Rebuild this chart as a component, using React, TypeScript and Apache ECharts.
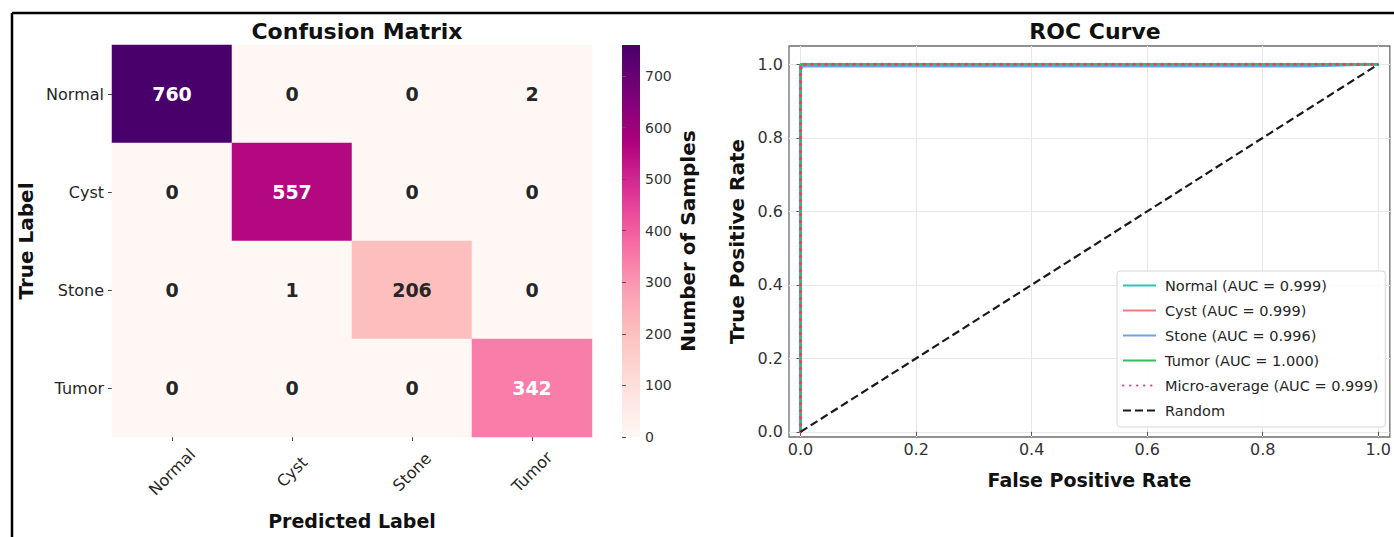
import React, { useEffect, useRef } from "react";
import * as echarts from "echarts";

const classes = ["Normal", "Cyst", "Stone", "Tumor"];
// rows = true label, cols = predicted label
const cmNormal = [760, 0, 0, 2];
const cmCyst = [0, 557, 0, 0];
const cmStone = [0, 1, 206, 0];
const cmTumor = [0, 0, 0, 342];
const cmRows = [cmNormal, cmCyst, cmStone, cmTumor];
const cmMax = 760;
const colorbarTicks = [0, 100, 200, 300, 400, 500, 600, 700];

const rocTicks = [0, 0.2, 0.4, 0.6, 0.8, 1.0];
const normalFpr = [0, 0, 0.002, 1];
const normalTpr = [0, 0.995, 1, 1];
const cystFpr = [0, 0, 0.003, 1];
const cystTpr = [0, 0.993, 1, 1];
const stoneFpr = [0, 0, 0.004, 0.88, 1];
const stoneTpr = [0, 0.985, 0.995, 0.995, 1];
const tumorFpr = [0, 0, 1];
const tumorTpr = [0, 1, 1];
const microFpr = [0, 0, 0.002, 1];
const microTpr = [0, 0.996, 1, 1];
const randomFpr = [0, 1];
const randomTpr = [0, 1];
const rocNames = [
  "Normal (AUC = 0.999)",
  "Cyst (AUC = 0.999)",
  "Stone (AUC = 0.996)",
  "Tumor (AUC = 1.000)",
  "Micro-average (AUC = 0.999)",
  "Random",
];

const RdPu = ["#fff7f3", "#fde0dd", "#fcc5c0", "#fa9fb5", "#f768a1", "#dd3497", "#ae017e", "#7a0177", "#49006a"];
const FONT = "DejaVu Sans";

function pairs(xs: number[], ys: number[]) {
  return xs.map((x, i) => [x, ys[i]]);
}

export default function App() {
  const ref = useRef<HTMLDivElement>(null);
  useEffect(() => {
    if (!ref.current) return;
    const chart = echarts.init(ref.current, null, { renderer: "svg" });
    const heatData: any[] = [];
    cmRows.forEach((row, r) =>
      row.forEach((v, c) =>
        heatData.push({
          value: [c, r, v],
          label: { color: v > 300 ? "#ffffff" : "#262626" },
        })
      )
    );
    const rocLine = (name: string, xs: number[], ys: number[], color: string, width: number, type: any, extra: any = {}) => ({
      type: "line",
      name,
      xAxisIndex: 2,
      yAxisIndex: 2,
      data: pairs(xs, ys),
      symbol: "none",
      lineStyle: { color, width, type, ...extra },
      itemStyle: { color },
    });
    const cbStops = RdPu.map((c, i) => ({ offset: 1 - i / (RdPu.length - 1), color: c })).reverse();

    chart.setOption({
      animation: false,
      textStyle: { fontFamily: FONT },
      title: [
        { text: "Confusion Matrix", left: 352, top: 15, textAlign: "center", textStyle: { fontFamily: FONT, fontSize: 22, fontWeight: "bold", color: "#111" } },
        { text: "ROC Curve", left: 1090, top: 15, textAlign: "center", textStyle: { fontFamily: FONT, fontSize: 22, fontWeight: "bold", color: "#111" } },
      ],
      grid: [
        { left: 112, top: 45, width: 480, height: 392 },
        { left: 622, top: 45, width: 18, height: 392 },
        { left: 789, top: 46, width: 601, height: 391, show: true, borderColor: "#6e6e6e", borderWidth: 1.3, backgroundColor: "transparent" },
      ],
      xAxis: [
        {
          gridIndex: 0,
          type: "category",
          data: classes,
          axisLine: { show: false },
          axisTick: { show: true, alignWithLabel: true, length: 4, lineStyle: { color: "#444" } },
          axisLabel: { rotate: 45, fontSize: 16, color: "#262626", margin: 35, align: "center", verticalAlign: "middle" },
          splitLine: { show: false },
          name: "Predicted Label",
          nameLocation: "middle",
          nameGap: 74,
          nameTextStyle: { fontSize: 19, fontWeight: "bold", color: "#111" },
        },
        { gridIndex: 1, type: "value", show: false },
        {
          gridIndex: 2,
          type: "value",
          min: -0.02,
          max: 1.02,
          axisLine: { show: false },
          axisTick: { show: true, customValues: rocTicks, length: 4, lineStyle: { color: "#555" } },
          axisLabel: { customValues: rocTicks, formatter: (v: number) => v.toFixed(1), fontSize: 16, color: "#333", margin: 4 },
          splitLine: { show: true, lineStyle: { color: "#e8e8e8", width: 1 } },
          name: "False Positive Rate",
          nameLocation: "middle",
          nameGap: 33,
          nameTextStyle: { fontSize: 19, fontWeight: "bold", color: "#111" },
        },
      ],
      yAxis: [
        {
          gridIndex: 0,
          type: "category",
          data: classes,
          inverse: true,
          axisLine: { show: false },
          axisTick: { show: true, alignWithLabel: true, length: 4, lineStyle: { color: "#444" } },
          axisLabel: { fontSize: 16, color: "#262626", margin: 8 },
          splitLine: { show: false },
          name: "True Label",
          nameLocation: "middle",
          nameGap: 76,
          nameTextStyle: { fontSize: 20, fontWeight: "bold", color: "#111" },
        },
        {
          gridIndex: 1,
          type: "value",
          position: "right",
          min: 0,
          max: cmMax,
          axisLine: { show: false },
          axisTick: { show: true, customValues: colorbarTicks, length: 4, lineStyle: { color: "#555" } },
          axisLabel: { customValues: colorbarTicks, fontSize: 14, color: "#333", margin: 5 },
          splitLine: { show: false },
          name: "Number of Samples",
          nameLocation: "middle",
          nameGap: 38,
          nameRotate: 90,
          nameTextStyle: { fontSize: 20, fontWeight: "bold", color: "#111" },
        },
        {
          gridIndex: 2,
          type: "value",
          min: -0.014,
          max: 1.05,
          axisLine: { show: false },
          axisTick: { show: true, customValues: rocTicks, length: 4, lineStyle: { color: "#555" } },
          axisLabel: { customValues: rocTicks, formatter: (v: number) => v.toFixed(1), fontSize: 16, color: "#333", margin: 6 },
          splitLine: { show: true, lineStyle: { color: "#e8e8e8", width: 1 } },
          name: "True Positive Rate",
          nameLocation: "middle",
          nameGap: 42,
          nameTextStyle: { fontSize: 20, fontWeight: "bold", color: "#111" },
        },
      ],
      visualMap: {
        show: false,
        type: "continuous",
        seriesIndex: 0,
        min: 0,
        max: cmMax,
        inRange: { color: RdPu },
      },
      legend: {
        data: rocNames,
        orient: "vertical",
        left: 1117,
        top: 271,
        itemWidth: 33,
        itemHeight: 12,
        itemGap: 10,
        padding: [7, 7, 9, 5],
        itemStyle: { opacity: 0 },
        backgroundColor: "rgba(255,255,255,0.85)",
        borderColor: "#d6d6d6",
        borderWidth: 1,
        borderRadius: 3,
        textStyle: { fontFamily: FONT, fontSize: 14.5, color: "#262626", padding: [0, 0, 0, 4] },
      },
      graphic: [
        { type: "line", shape: { x1: 12, y1: 13, x2: 1394, y2: 13 }, style: { stroke: "#000", lineWidth: 2.5 } },
        { type: "line", shape: { x1: 12, y1: 13, x2: 12, y2: 537 }, style: { stroke: "#000", lineWidth: 2.5 } },
        {
          type: "rect",
          shape: { x: 622, y: 45, width: 18, height: 392 },
          style: { fill: new echarts.graphic.LinearGradient(0, 0, 0, 1, cbStops) },
        },
      ],
      series: [
        {
          type: "heatmap",
          xAxisIndex: 0,
          yAxisIndex: 0,
          data: heatData,
          label: { show: true, fontSize: 19, fontWeight: "bold", fontFamily: FONT },
          itemStyle: { borderWidth: 0 },
          emphasis: { disabled: true },
        },
        rocLine(rocNames[0], normalFpr, normalTpr, "#2ec4b6", 2.5, "solid"),
        rocLine(rocNames[1], cystFpr, cystTpr, "#f47c7c", 2.5, "solid"),
        rocLine(rocNames[2], stoneFpr, stoneTpr, "#6fa3e8", 2.5, "solid"),
        rocLine(rocNames[3], tumorFpr, tumorTpr, "#2fbf5f", 2.5, "solid"),
        rocLine(rocNames[4], microFpr, microTpr, "#e8407a", 3.2, [0.5, 6.5], { cap: "round" }),
        rocLine(rocNames[5], randomFpr, randomTpr, "#1a1a1a", 2.2, [8, 4]),
      ],
    });
    return () => chart.dispose();
  }, []);
  return <div ref={ref} style={{ position: "fixed", left: 0, top: 0, width: 1394, height: 537, background: "#fff" }} />;
}
